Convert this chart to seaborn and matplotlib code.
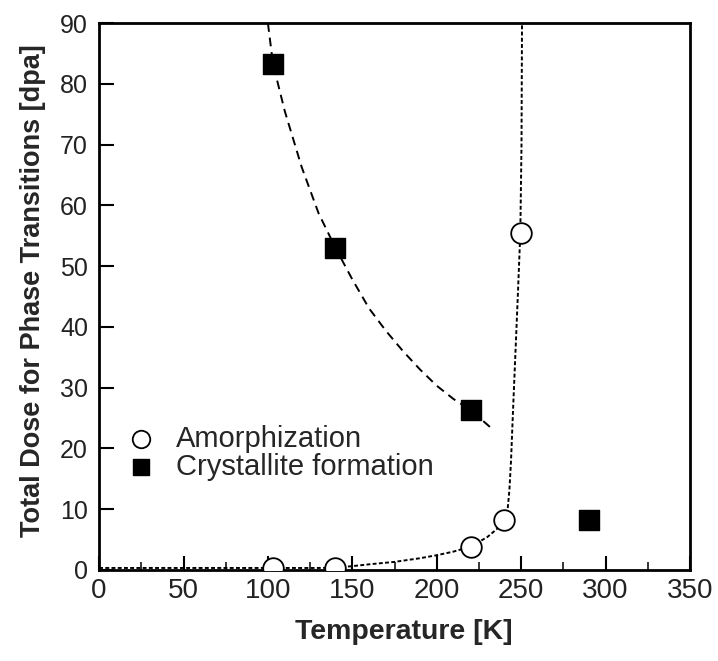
import matplotlib
matplotlib.use("Agg")
import matplotlib.pyplot as plt
import seaborn as sns
import pandas as pd
from matplotlib.ticker import MultipleLocator
from matplotlib import font_manager

# ---- data ----
amorph_T = [103, 140, 220, 240, 250]
amorph_D = [0.3, 0.3, 3.8, 8.2, 55.5]

cryst_T = [103, 140, 220, 290]
cryst_D = [83.3, 53.0, 26.3, 8.2]

# guide curves
cryst_curve_T = [100, 103, 110, 120, 130, 140, 150, 160, 170, 180, 190, 200, 210, 220, 232]
cryst_curve_D = [90, 83.3, 75.5, 66.3, 58.7, 53.0, 47.8, 43.0, 39.3, 36.0, 33.0, 30.3, 28.1, 26.3, 23.4]

amorph_curve_T = [0, 50, 100, 130, 140, 150, 160, 175, 190, 200, 210, 220, 230, 236, 240,
                  242, 243, 244, 245, 246.5, 248, 249.5, 250.2, 250.5]
amorph_curve_D = [0.3, 0.3, 0.3, 0.3, 0.35, 0.6, 0.9, 1.3, 1.9, 2.4, 3.0, 3.8, 5.4, 6.8, 8.2,
                  10.0, 13.0, 18.0, 25.0, 35.0, 45.0, 55.5, 70.0, 90.0]

x_ticks = [0, 50, 100, 150, 200, 250, 300, 350]
y_ticks = [0, 10, 20, 30, 40, 50, 60, 70, 80, 90]

sns.set_theme(style="ticks")
plt.rcParams['font.family'] = ['Liberation Sans', 'DejaVu Sans']

names = {f.name for f in font_manager.fontManager.ttflist}
narrow = 'Liberation Sans Narrow' if 'Liberation Sans Narrow' in names else 'Liberation Sans'

fig = plt.figure(figsize=(7.18, 6.61), dpi=100)
ax = fig.add_axes([0.138, 0.138, 0.823, 0.827])

df_cc = pd.DataFrame({"T": cryst_curve_T, "D": cryst_curve_D})
df_ac = pd.DataFrame({"T": amorph_curve_T, "D": amorph_curve_D})
sns.lineplot(data=df_cc, x="T", y="D", ax=ax, color="black", sort=False, estimator=None,
             linewidth=1.4, linestyle=(0, (4.5, 3.0)), legend=False)
sns.lineplot(data=df_ac, x="T", y="D", ax=ax, color="black", sort=False, estimator=None,
             linewidth=1.4, linestyle=(0, (2.0, 1.2)), legend=False)

df_a = pd.DataFrame({"T": amorph_T, "D": amorph_D})
df_c = pd.DataFrame({"T": cryst_T, "D": cryst_D})
sns.scatterplot(data=df_a, x="T", y="D", ax=ax, marker="o", s=220, facecolor="white",
                edgecolor="black", linewidth=1.3, label="Amorphization", zorder=5)
sns.scatterplot(data=df_c, x="T", y="D", ax=ax, marker="s", s=190, color="black",
                edgecolor="black", linewidth=1.0, label="Crystallite formation", zorder=5)

ax.set_xlim(0, 350)
ax.set_ylim(0, 90)
ax.set_xticks(x_ticks)
ax.set_yticks(y_ticks)
ax.xaxis.set_minor_locator(MultipleLocator(25))
ax.tick_params(axis="both", which="major", direction="in", width=1.5, color="black")
ax.tick_params(axis="x", which="major", length=10, labelsize=20, pad=6)
ax.tick_params(axis="x", which="minor", direction="in", length=6, width=1.3)
ax.tick_params(axis="y", which="major", length=11, labelsize=18, pad=8)
for lbl in ax.get_xticklabels():
    lbl.set_fontfamily(narrow)
    lbl.set_color("#222222")
for lbl in ax.get_yticklabels():
    lbl.set_color("#222222")
for sp in ax.spines.values():
    sp.set_visible(True)
    sp.set_linewidth(2.0)
    sp.set_color("black")

ax.set_xlabel("Temperature [K]", fontsize=20.5, fontweight="bold", labelpad=11)
ax.xaxis.label.set_x(0.515)
ax.set_ylabel("Total Dose for Phase Transitions [dpa]", fontsize=19.5, fontweight="bold", labelpad=10)
ax.yaxis.label.set_y(0.51)

leg = ax.legend(loc="center left", bbox_to_anchor=(0.029, 0.214), frameon=False,
                fontsize=21, handlelength=0.9, handletextpad=0.75, labelspacing=0.02,
                borderaxespad=0, markerscale=0.85)

fig.savefig("out.png", dpi=100)
